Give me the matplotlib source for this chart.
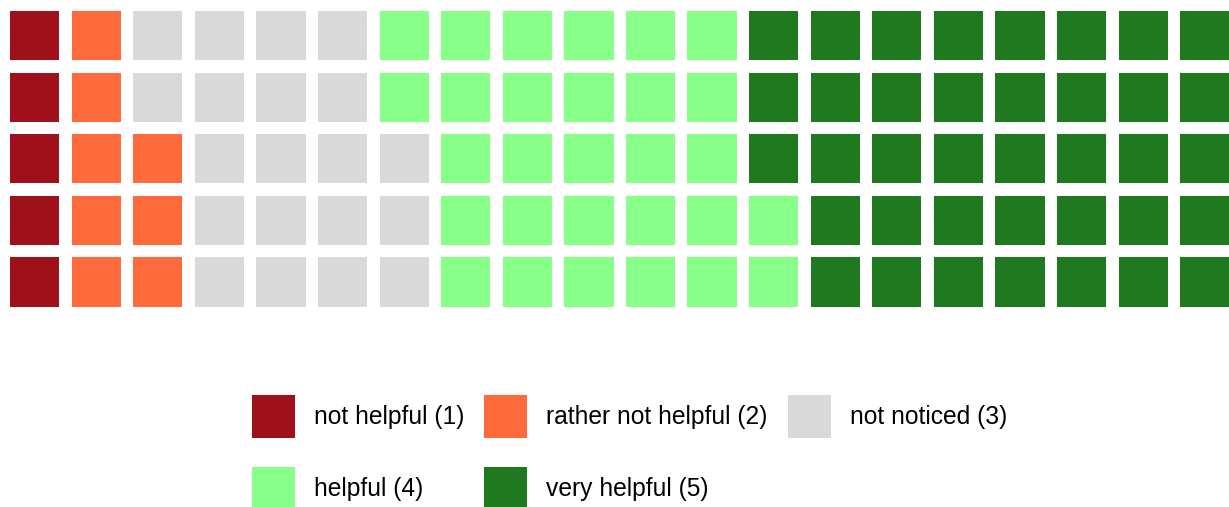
import matplotlib
matplotlib.use("Agg")
import matplotlib.pyplot as plt
from matplotlib.patches import Rectangle, Patch

categories = ["not helpful (1)", "rather not helpful (2)", "not noticed (3)",
              "helpful (4)", "very helpful (5)"]
counts = [5, 8, 20, 29, 38]
colors = ["#A0101A", "#FF6A3D", "#D9D9D9", "#88FF88", "#1F7A1F"]
n_rows = 5
n_cols = 20

plt.rcParams['font.family'] = ['Liberation Sans', 'DejaVu Sans']

W, H = 1229, 507
fig = plt.figure(figsize=(W / 100, H / 100), dpi=100)
left, right, top, bottom = 10, 1229.4, 11, 306.7
ax = fig.add_axes([left / W, 1 - bottom / H, (right - left) / W, (bottom - top) / H])
ax.set_xlim(0, 19.8)
ax.set_ylim(0, 4.8)
ax.axis("off")

cell = 0.8
idx = 0
for cat_i, c in enumerate(counts):
    for _ in range(c):
        col = idx // n_rows
        row = idx % n_rows  # bottom-up within a column
        ax.add_patch(Rectangle((col, row), cell, cell, facecolor=colors[cat_i],
                               edgecolor="none"))
        idx += 1

fs = 17.75
fs_px = fs * 100 / 72
handles = [Patch(facecolor=col, edgecolor="none", label=lab)
           for col, lab in zip(colors, categories)]
# legend fills column-wise; reorder so it reads row-wise
order = [0, 3, 1, 4, 2]
handles = [handles[i] for i in order]
hh = (43 / fs_px - 0.245) / 0.65
fig.legend(handles=handles, loc="upper left",
           bbox_to_anchor=(252 / W, 1 - 395 / H),
           ncol=3, frameon=False, fontsize=fs,
           handlelength=43 / fs_px, handleheight=hh,
           handletextpad=19 / fs_px, columnspacing=20 / fs_px,
           labelspacing=29 / fs_px, borderpad=0, borderaxespad=0)

fig.savefig("out.png", dpi=100, facecolor="white")
